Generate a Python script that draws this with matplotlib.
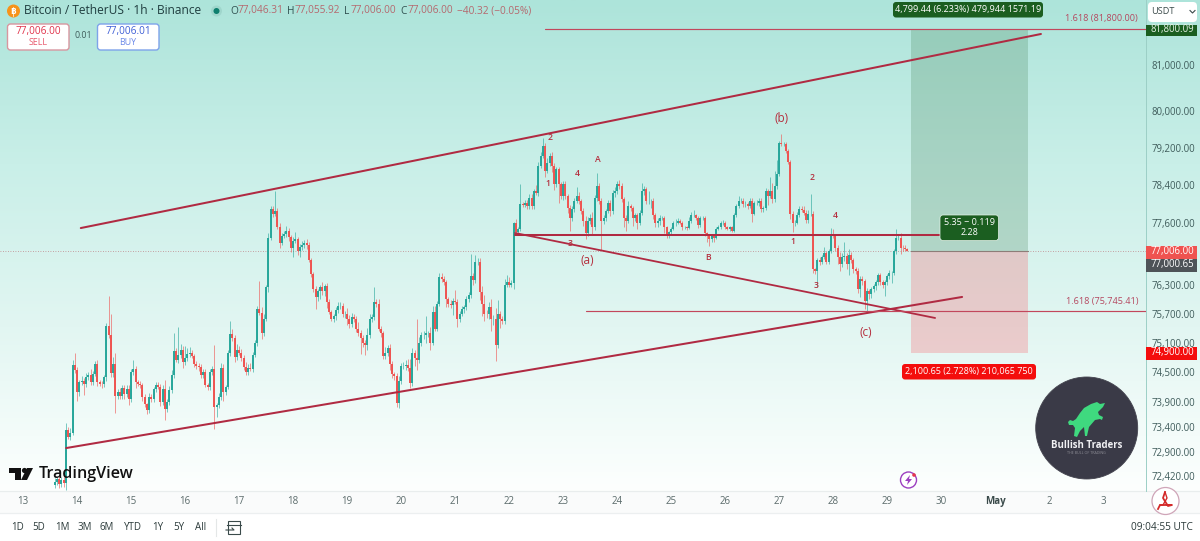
import numpy as np
import matplotlib
matplotlib.use("Agg")
import matplotlib.pyplot as plt
from matplotlib.colors import LinearSegmentedColormap
from matplotlib.patches import Circle, FancyBboxPatch, Polygon, Rectangle
from matplotlib.ticker import NullLocator

plt.rcParams["font.family"] = ["Open Sans", "DejaVu Sans"]

# BTC/USDT hourly closes, starting 13 April 14:00
closes = [
    72300, 72370, 72270, 72350, 72290, 73340, 73200, 73280, 74650, 74550,
    74095, 74300, 74330, 74265, 74400, 74440, 74300, 74470, 74670, 74300,
    74270, 74265, 74400, 75450, 75250, 74480, 74670, 74025, 74100, 74025,
    74170, 74060, 74160, 73960, 74500, 74570, 74300, 74270, 74235, 73990,
    73850, 73730, 73990, 73960, 74160, 74240, 74200, 73890, 74150, 73755,
    73890, 74130, 74440, 74940, 74750, 74840, 74950, 74700, 74780, 74860,
    74900, 74820, 74670, 74620, 74600, 74440, 74500, 74250, 74200, 74500,
    74570, 73800, 73830, 74000, 74590, 74100, 74200, 74880, 75270, 75200,
    74800, 74950, 74900, 74780, 74600, 74500, 74590, 74570, 74850, 75090,
    75800, 75720, 75290, 75590, 76240, 77280, 77890, 77770, 77850, 77510,
    77160, 77320, 77350, 77430, 77290, 77060, 77220, 77260, 76990, 77080,
    77120, 77160, 77120, 76820, 76510, 76200, 76040, 76160, 76240, 76160,
    76260, 75940, 75740, 75590, 75650, 75780, 75860, 75860, 75700, 75700,
    75590, 75490, 75630, 75590, 75390, 75290, 75190, 75090, 75050, 75250,
    75590, 75630, 75940, 75900, 75390, 75290, 74830, 74890, 74990, 74670,
    74470, 74430, 73880, 74330, 74630, 74630, 74650, 74590, 74290, 74890,
    74790, 74750, 75090, 75250, 75250, 75290, 75290, 75090, 75740, 75390,
    75900, 76450, 76410, 76350, 76000, 75900, 75880, 75960, 75940, 75590,
    75700, 75800, 75840, 76000, 76080, 76470, 76390, 76760, 76760, 76140,
    75900, 75700, 75680, 75840, 75590, 75590, 75050, 75700, 75590, 75550,
    76300, 76360, 76300, 76340, 77580, 77410, 77470, 78000, 77980, 78020,
    77950, 78120, 77950, 78270, 78230, 78800, 79010, 79230, 78690, 78860,
    79010, 78800, 78420, 78730, 78420, 78160, 78420, 78160, 77910, 77700,
    77890, 78060, 78160, 78060, 77850, 77640, 77370, 77640, 77700, 77500,
    78120, 78370, 78060, 77640, 77700, 77850, 78020, 77850, 78230, 78270,
    78420, 78370, 78100, 77700, 77640, 77950, 77910, 77700, 77750, 77600,
    77810, 78270, 78310, 78060, 78060, 78060, 77750, 77600, 77640, 77700,
    77700, 77500, 77330, 77390, 77470, 77580, 77600, 77640, 77600, 77500,
    77500, 77490, 77640, 77750, 77750, 77700, 77540, 77700, 77700, 77370,
    77330, 77260, 77330, 77280, 77470, 77500, 77580, 77600, 77500, 77470,
    77500, 77430, 77750, 77950, 78060, 78060, 77990, 77990, 77950, 78060,
    77790, 78020, 78020, 78060, 77890, 77910, 78270, 78160, 78270, 78100,
    78370, 78630, 79290, 79270, 79270, 79120, 78900, 77790, 77590, 77600,
    77750, 77890, 77870, 77810, 77660, 77790, 77790, 76620, 76580, 76820,
    76780, 76880, 76960, 76780, 77000, 77330, 77320, 77070, 76880, 76720,
    76880, 76900, 76720, 76920, 76820, 76620, 76580, 76200, 76410, 76370,
    75960, 76160, 76100, 76200, 76260, 76350, 76490, 76350, 76280, 76350,
    76470, 76550, 76550, 76990, 77280, 77280, 77070, 77060, 77040, 77006,
]
first_open = 72250

# Wick lengths above and below each candle body, in USDT
upper_wicks = [
    80, 40, 70, 60, 50, 140, 60, 90, 100, 240,
    60, 40, 100, 60, 90, 60, 120, 50, 60, 70,
    40, 60, 40, 60, 610, 450, 130, 220, 60, 70,
    70, 60, 90, 80, 60, 170, 60, 50, 60, 50,
    70, 30, 80, 60, 40, 60, 70, 60, 90, 200,
    60, 80, 100, 350, 60, 590, 120, 90, 260, 130,
    120, 60, 50, 50, 60, 60, 60, 70, 40, 60,
    60, 480, 50, 80, 100, 70, 50, 80, 280, 120,
    60, 120, 90, 70, 60, 100, 80, 90, 70, 60,
    60, 570, 120, 100, 40, 90, 60, 50, 420, 60,
    80, 60, 70, 90, 60, 50, 70, 150, 40, 60,
    90, 80, 100, 60, 40, 50, 60, 50, 60, 120,
    60, 80, 50, 40, 30, 60, 70, 80, 50, 60,
    120, 80, 90, 60, 50, 130, 70, 60, 60, 150,
    90, 60, 300, 60, 110, 50, 60, 120, 60, 90,
    50, 40, 60, 90, 60, 70, 90, 120, 170, 100,
    60, 800, 130, 60, 80, 360, 60, 130, 120, 110,
    60, 80, 80, 60, 50, 50, 70, 60, 220, 60,
    50, 50, 40, 60, 60, 460, 80, 160, 100, 100,
    120, 190, 70, 100, 160, 70, 220, 280, 60, 50,
    110, 130, 100, 60, 40, 100, 30, 420, 40, 60,
    60, 80, 90, 40, 120, 80, 90, 170, 60, 120,
    70, 90, 60, 60, 60, 50, 70, 60, 50, 70,
    60, 70, 190, 80, 40, 60, 90, 70, 70, 130,
    60, 280, 60, 60, 50, 40, 60, 50, 60, 80,
    60, 90, 70, 40, 50, 100, 50, 50, 60, 60,
    60, 170, 60, 40, 210, 40, 60, 60, 60, 60,
    40, 40, 30, 40, 30, 50, 70, 50, 40, 40,
    30, 30, 70, 70, 110, 40, 30, 30, 40, 40,
    40, 30, 30, 30, 40, 40, 60, 50, 30, 30,
    30, 30, 50, 40, 110, 60, 60, 60, 40, 70,
    60, 40, 60, 60, 50, 50, 60, 50, 300, 170,
    320, 300, 50, 200, 60, 50, 60, 40, 60, 50,
    70, 60, 50, 70, 50, 70, 420, 60, 30, 40,
    60, 40, 120, 40, 50, 150, 140, 30, 60, 90,
    80, 280, 60, 120, 60, 40, 50, 60, 60, 60,
    40, 60, 40, 50, 60, 50, 60, 40, 40, 50,
    50, 50, 40, 60, 180, 60, 100, 50, 60, 20,
]
lower_wicks = [
    70, 60, 90, 70, 80, 150, 40, 60, 50, 70,
    180, 70, 60, 230, 60, 60, 70, 50, 50, 90,
    60, 80, 70, 70, 60, 80, 80, 350, 70, 60,
    70, 100, 70, 130, 60, 50, 120, 60, 60, 70,
    60, 80, 60, 60, 60, 70, 50, 70, 50, 210,
    60, 50, 60, 60, 50, 60, 50, 120, 60, 50,
    50, 40, 60, 50, 70, 60, 60, 60, 60, 70,
    50, 440, 200, 60, 70, 190, 60, 50, 50, 70,
    90, 50, 60, 60, 60, 60, 50, 40, 60, 50,
    60, 60, 110, 60, 50, 90, 40, 50, 40, 50,
    90, 40, 50, 50, 70, 80, 190, 60, 70, 120,
    50, 60, 70, 50, 60, 50, 240, 80, 150, 80,
    100, 130, 60, 50, 60, 80, 60, 60, 70, 100,
    130, 80, 60, 70, 70, 60, 320, 70, 210, 100,
    50, 60, 60, 70, 60, 70, 60, 60, 60, 120,
    80, 90, 90, 110, 70, 60, 80, 60, 120, 70,
    160, 200, 60, 60, 80, 150, 70, 130, 40, 40,
    60, 50, 60, 70, 160, 60, 60, 220, 40, 170,
    60, 50, 80, 70, 60, 50, 100, 50, 60, 170,
    260, 150, 80, 90, 260, 120, 320, 60, 180, 60,
    70, 50, 60, 50, 130, 50, 50, 40, 50, 50,
    60, 60, 70, 60, 50, 60, 40, 40, 120, 40,
    60, 120, 130, 60, 400, 60, 80, 70, 100, 270,
    60, 60, 50, 70, 60, 110, 110, 60, 70, 170,
    60, 70, 70, 610, 70, 60, 50, 120, 60, 80,
    60, 60, 70, 190, 220, 60, 70, 170, 60, 130,
    60, 60, 90, 70, 70, 150, 70, 100, 100, 90,
    40, 130, 60, 50, 30, 30, 50, 40, 40, 50,
    40, 40, 30, 40, 30, 40, 50, 30, 40, 60,
    150, 160, 70, 100, 30, 30, 30, 30, 40, 30,
    40, 30, 40, 30, 40, 40, 60, 70, 70, 40,
    170, 40, 40, 60, 60, 70, 40, 180, 40, 90,
    60, 60, 50, 40, 40, 40, 50, 120, 180, 60,
    40, 40, 50, 50, 60, 60, 60, 70, 60, 340,
    70, 50, 40, 60, 50, 40, 50, 60, 160, 130,
    60, 90, 90, 220, 70, 90, 60, 70, 160, 80,
    170, 210, 90, 70, 60, 80, 70, 60, 50, 220,
    60, 60, 210, 60, 60, 40, 130, 50, 40, 10,
]

# Axis ticks and labels (x is the day number counted from 1 April)
day_ticks = list(range(13, 34))
day_labels = [str(d) for d in range(13, 31)] + ["May", "2", "3"]
price_ticks = [81000, 80000, 79200, 78400, 77600, 76300, 75700, 75100,
               74500, 73900, 73400, 72900, 72420]
price_labels = [f"{p:,.2f}" for p in price_ticks]

# Drawn tools: (start day, start price, end day, end price)
channel_upper = (14.07, 77483, 31.85, 81689)
channel_lower = (13.80, 72976, 30.39, 76042)
neckline = (22.11, 77330, 30.00, 77330)
falling_line = (22.11, 77379, 29.89, 75608)
fib_high = (22.67, 81800, 33.79, 81800)
fib_low = (23.43, 75745.41, 33.79, 75745.41)

# Long position tool
entry_price = 77006.0
target_price = 81800.0
stop_price = 74900.0
position_days = (29.44, 31.61)

W, H = 1200, 541
GREEN, RED = "#26a69a", "#ef5350"
LINE_RED = "#b02a42"
FIB_RED = "#c2475c"
TEXT = "#3f5c5b"
fig = plt.figure(figsize=(W / 100, H / 100), dpi=100, facecolor="white")

# Chart background: vertical wash over the pane and the price scale
bg = fig.add_axes([0, 0, 1, 1], zorder=0)
bg.set_xlim(0, W)
bg.set_ylim(H, 0)
bg.axis("off")
wash = LinearSegmentedColormap.from_list(
    "wash", ["#ade4da", "#c9efe8", "#e2f6f2", "#fdfffe"])
bg.imshow(np.linspace(0, 1, 256)[:, None], cmap=wash, aspect="auto",
          extent=(0, W, 491, 0), zorder=0)
bg.set_xlim(0, W)
bg.set_ylim(H, 0)
bg.add_patch(Rectangle((0, 491), W, 22, fc="#fafbfb", ec="none"))
bg.plot([0, W], [491, 491], color="#e9eded", lw=0.9)
bg.plot([0, W], [513, 513], color="#eceff0", lw=0.9)

# Price pane: log scale, as the spacing of the price labels shows
ax = fig.add_axes([0, (H - 491) / H, 1145.7 / W, 491 / H], zorder=2)
ax.patch.set_alpha(0)
ax.set_yscale("log")
ax.set_xlim(12.574, 33.79)
ax.set_ylim(72127, 82449)
for side in ("top", "left", "bottom"):
    ax.spines[side].set_visible(False)
ax.spines["right"].set_color("#9ccfc6")
ax.spines["right"].set_linewidth(0.7)
ax.yaxis.tick_right()
ax.set_yticks(price_ticks, price_labels)
ax.yaxis.set_minor_locator(NullLocator())
ax.tick_params(axis="y", length=0, pad=4.5, labelsize=6.9, labelcolor=TEXT)
ax.set_xticks(day_ticks, day_labels)
ax.tick_params(axis="x", length=0, pad=3.5, labelsize=7.0, labelcolor="#5b6b6b")
for lbl in ax.get_xticklabels():
    if lbl.get_text() == "May":
        lbl.set_fontweight("bold")
        lbl.set_color("#3a4a4a")

# Candles
c = np.array(closes, dtype=float)
o = np.r_[first_open, c[:-1]]
hi = np.maximum(o, c) + np.array(upper_wicks)
lo = np.minimum(o, c) - np.array(lower_wicks)
t = 13 + (14 + np.arange(len(c))) / 24
col = np.where(c >= o, GREEN, RED)
ax.vlines(t, lo, hi, colors=col, lw=0.7, alpha=0.6, zorder=3)
ax.vlines(t, o, c, colors=col, lw=1.4, zorder=4)

# Last price guide
ax.axhline(entry_price, color="#b86a6f", lw=0.6, ls=(0, (1, 2)), alpha=0.8, zorder=2)

# Position tool
ax.fill_between(position_days, entry_price, target_price, color="#4f8a62",
                alpha=0.27, lw=0, zorder=2)
ax.fill_between(position_days, stop_price, entry_price, color="#fa5d68",
                alpha=0.28, lw=0, zorder=2)
ax.plot(position_days, [entry_price] * 2, color="#8d7d78", lw=0.8, zorder=3)

# Trend lines
for seg, lw, colr in [(channel_upper, 1.45, LINE_RED), (channel_lower, 1.45, LINE_RED),
                      (neckline, 1.45, LINE_RED), (falling_line, 1.3, LINE_RED),
                      (fib_high, 0.85, FIB_RED), (fib_low, 0.85, FIB_RED)]:
    ax.plot([seg[0], seg[2]], [seg[1], seg[3]], color=colr, lw=lw,
            solid_capstyle="round", zorder=5)

# Overlay in pixel coordinates for labels and interface furniture
ui = fig.add_axes([0, 0, 1, 1], zorder=6)
ui.patch.set_alpha(0)
ui.set_xlim(0, W)
ui.set_ylim(H, 0)
ui.axis("off")


def label(x, y, s, size, color, ha="center", **kw):
    ui.text(x, y, s, fontsize=size, color=color, ha=ha, va="center", **kw)


def badge(x0, y0, x1, y1, face, edge="none", r=3, lw=0.0):
    ui.add_patch(FancyBboxPatch((x0 + r, y0 + r), x1 - x0 - 2 * r, y1 - y0 - 2 * r,
                                boxstyle=f"round,pad={r},rounding_size={r}",
                                fc=face, ec=edge, lw=lw, mutation_aspect=1))


# Header: coin symbol built from a letter B with a small bar
ui.add_patch(Circle((13.5, 11), 6.5, fc="#f7931a", ec="none"))
label(13.5, 11, "B", 6, "white", fontweight="bold")
ui.plot([13, 13], [6.5, 15.5], color="white", lw=0.5)
label(24, 11, "Bitcoin / TetherUS · 1h · Binance", 8.6, "#1f3d3f", ha="left")
ui.add_patch(Circle((216.5, 11), 5.5, fc="#9fd6cc", ec="none"))
ui.add_patch(Circle((216.5, 11), 3, fc="#0e7f6e", ec="none"))
for x, s, colr in [(230, "O", "#2f4f4f"), (238, "77,046.31", "#b5686e"),
                   (287, "H", "#2f4f4f"), (295, "77,055.92", "#b5686e"),
                   (344, "L", "#2f4f4f"), (351, "77,006.00", "#b5686e"),
                   (400, "C", "#2f4f4f"), (408, "77,006.00", "#b5686e"),
                   (457, "−40.32 (−0.05%)", "#b5686e")]:
    label(x, 11, s, 7.3, colr, ha="left")

# Sell and buy buttons
badge(7.5, 24, 69, 50, "white", "#d8969f", r=3, lw=1.0)
label(38, 31.5, "77,006.00", 7.2, "#e0324a")
label(38, 42.5, "SELL", 6.4, "#e8566a")
label(83, 36, "0.01", 6.3, "#3f5c5b")
badge(97.5, 24, 159, 50, "white", "#7ea3ea", r=3, lw=1.0)
label(128, 31.5, "77,006.01", 7.2, "#3f5fd6")
label(128, 42.5, "BUY", 6.4, "#6d8ae8")

# TradingView mark
ui.add_patch(Polygon([(9, 468), (21, 468), (21, 480), (15, 480), (15, 473), (9, 473)],
                     fc="#111111", ec="none"))
ui.add_patch(Circle((24.5, 470.5), 2.6, fc="#111111", ec="none"))
ui.add_patch(Polygon([(27, 468), (33, 468), (27, 480), (21, 480)], fc="#111111", ec="none"))
label(39, 474, "TradingView", 11.6, "#111111", ha="left", fontweight="semibold")

# Wave count
for x, y, s, size in [(782, 118, "(b)", 8.5), (587, 260, "(a)", 8.5), (866, 332, "(c)", 8.5),
                      (550, 137, "2", 6.2), (548, 183, "1", 6.2), (577, 174, "4", 6.2),
                      (598, 160, "A", 6.2), (570, 243, "3", 6.2), (708, 258, "B", 6.2),
                      (812, 178, "2", 6.2), (793, 242, "1", 6.2), (835, 216, "4", 6.2),
                      (816, 286, "3", 6.2)]:
    label(x, y, s, size, "#b5303f", fontweight="semibold" if size < 7 else "normal")

# Fibonacci captions
label(1138, 19, "1.618 (81,800.00)", 6.6, "#b5485f", ha="right")
label(1138, 301.5, "1.618 (75,745.41)", 6.6, "#b5485f", ha="right")

# Position tool captions
badge(893, 2, 1043, 17.5, "#1b5e20", r=3)
label(968, 9.5, "4,799.44 (6.233%) 479,944 1571.19", 6.5, "white")
badge(940, 215, 998.5, 240.5, "#1b5e20", "#e6f3ea", r=3, lw=0.5)
label(969.5, 222.5, "5.35 − 0.119", 6.5, "white")
label(969.5, 232.5, "2.28", 6.5, "white")
badge(902, 364, 1036, 379.5, "#f40d0d", r=3)
label(969, 371.5, "2,100.65 (2.728%) 210,065 750", 6.5, "white")

# Price scale badges
ui.add_patch(Rectangle((1146, 25), 51, 10.5, fc="#1b5e20", ec="none"))
label(1172, 29.5, "81,800.09", 6.9, "#e8f2e8")
ui.add_patch(Rectangle((1146, 245.5), 51, 13, fc="#ef5350", ec="none"))
label(1172, 251.5, "77,006.00", 6.9, "white")
ui.add_patch(Rectangle((1146, 258.5), 51, 13, fc="#4e5358", ec="none"))
label(1172, 264.5, "77,000.65", 6.9, "white")
ui.add_patch(Rectangle((1146, 347), 51, 13, fc="#f40d0d", ec="none"))
label(1172, 353, "74,900.00", 6.9, "white")

# Currency selector
badge(1148, 2, 1197, 22, "white", r=4)
label(1151, 12, "USDT", 6.6, "#3b4a4a", ha="left")
ui.plot([1190, 1192.5, 1195], [10.5, 13, 10.5], color="#3b4a4a", lw=0.8)

# Logo disc
ui.add_patch(Circle((1086.7, 428), 51, fc="#3a3a47", ec="none"))
ui.add_patch(Circle((1086.7, 428), 51, fc="none", ec="#44444f", lw=0.6))
ui.add_patch(Polygon([(1105, 403), (1100, 404), (1097, 402), (1091, 404), (1084, 408),
                      (1080, 413), (1076, 419), (1073, 421), (1070, 420), (1068, 422),
                      (1069, 425), (1073, 425), (1075, 428), (1074, 436), (1077, 437),
                      (1080, 431), (1084, 427), (1085, 436), (1087, 436), (1089, 427),
                      (1095, 420), (1100, 419), (1102, 420), (1103, 417), (1099, 415),
                      (1098, 412), (1103, 407)], fc="#3fd97f", ec="none"))
label(1086.7, 445.5, "Bullish Traders", 6.9, "#f1f1f4", fontweight="bold")
label(1086.7, 453, "THE BULL OF TRADING", 2.6, "#8d8d96")

# Small round buttons
ui.add_patch(Circle((908.5, 480), 8, fc="white", ec="#9c3fc0", lw=1.0))
ui.add_patch(Polygon([(910, 475), (905, 481), (908, 481), (907, 485), (912, 479), (909, 479)],
                     fc="#9c3fc0", ec="none"))
ui.add_patch(Circle((914, 475), 1.8, fc="#e5364d", ec="none"))
ui.add_patch(Circle((1165.5, 501), 13.5, fc="white", ec="#cfa5b8", lw=0.9))
ui.plot([1165, 1163, 1168, 1172, 1160, 1158], [492, 498, 506, 505, 505, 509],
        color="#d42a2a", lw=1.3, solid_joinstyle="round")
ui.plot([1165, 1167, 1163, 1160], [492, 498, 505, 505], color="#d42a2a", lw=1.0)

# Bottom toolbar
for x, s in [(17.5, "1D"), (39, "5D"), (62, "1M"), (85, "3M"), (107, "6M"),
             (133, "YTD"), (158, "1Y"), (179, "5Y"), (201, "All")]:
    label(x, 527.5, s, 7.0, "#2b3a3a")
ui.plot([216, 216], [519, 536], color="#e4e7e7", lw=0.8)
ui.add_patch(Rectangle((228, 521), 12, 13, fc="none", ec="#3a4a4a", lw=0.8))
ui.plot([227, 241], [525, 525], color="#3a4a4a", lw=0.8)
ui.plot([226, 234, 232], [530, 530, 528], color="#3a4a4a", lw=0.8)
label(1193, 528, "09:04:55 UTC", 7.3, "#2b3a3a", ha="right")

fig.savefig("out.png", dpi=100)
